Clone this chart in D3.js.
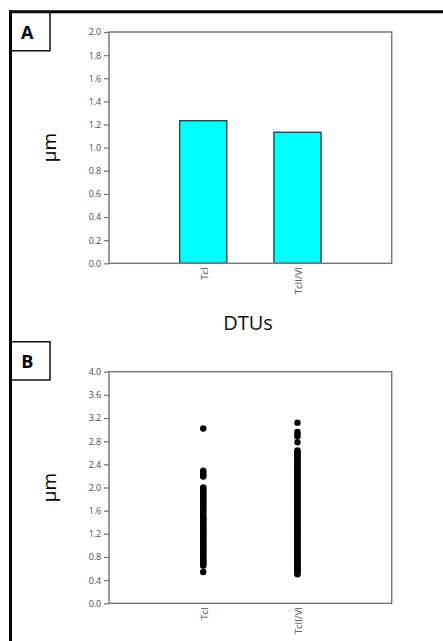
<!DOCTYPE html>
<html>
<head>
<meta charset="utf-8">
<script src="https://cdn.jsdelivr.net/npm/d3@7"></script>
<style>
  html, body { margin: 0; padding: 0; background: #fff; }
  svg { display: block; }
  .tick text { font-family: "Open Sans", sans-serif; }
</style>
</head>
<body>
<svg id="fig" width="443" height="641"></svg>
<script>
// Cell diameter by DTU
const categories = ["TcI", "TcII/VI"];

// Panel A: mean diameter (µm)
const meanValues = [1.233, 1.133];
const yTicksA = [0.0, 0.2, 0.4, 0.6, 0.8, 1.0, 1.2, 1.4, 1.6, 1.8, 2.0];

// Panel B: individual measurements (µm)
const valuesTcI = [
  3.02, 2.29, 2.27, 2.24, 2.21, 2.19,
  2.00, 1.98, 1.95, 1.93, 1.90, 1.89, 1.86, 1.83, 1.81, 1.78, 1.77, 1.74,
  1.72, 1.69, 1.66, 1.65, 1.62, 1.60, 1.57, 1.53, 1.49, 1.47, 1.46, 1.43,
  1.41, 1.38, 1.37, 1.34, 1.31, 1.30, 1.27, 1.25, 1.24, 1.21, 1.18, 1.17,
  1.15, 1.12, 1.10, 1.09, 1.06, 1.04, 1.01, 1.00, 0.97, 0.95, 0.93, 0.90,
  0.89, 0.86, 0.84, 0.82, 0.80, 0.78, 0.75, 0.73, 0.71, 0.69, 0.67, 0.65,
  0.54
];
const valuesTcIIVI = [
  3.12, 2.96, 2.92, 2.88, 2.78,
  2.64, 2.62, 2.60, 2.57, 2.55, 2.53, 2.50, 2.48, 2.46, 2.43, 2.41, 2.39,
  2.37, 2.34, 2.32, 2.30, 2.27, 2.25, 2.23, 2.21, 2.18, 2.16, 2.14, 2.12,
  2.09, 2.07, 2.05, 2.03, 2.00, 1.98, 1.96, 1.94, 1.91, 1.89, 1.87, 1.85,
  1.82, 1.80, 1.78, 1.76, 1.73, 1.71, 1.69, 1.67, 1.64, 1.62, 1.60, 1.58,
  1.55, 1.53, 1.51, 1.49, 1.46, 1.44, 1.42, 1.40, 1.37, 1.35, 1.33, 1.31,
  1.28, 1.26, 1.24, 1.22, 1.19, 1.17, 1.15, 1.13, 1.10, 1.08, 1.06, 1.04,
  1.01, 0.99, 0.97, 0.95, 0.92, 0.90, 0.88, 0.86, 0.83, 0.81, 0.79, 0.77,
  0.74, 0.72, 0.70, 0.68, 0.66, 0.64, 0.62, 0.60, 0.58, 0.56, 0.54, 0.52,
  0.50
];
const yTicksB = [0.0, 0.4, 0.8, 1.2, 1.6, 2.0, 2.4, 2.8, 3.2, 3.6, 4.0];

const svg = d3.select("#fig");
const frameColor = "#7a7a7a";
const tickTextColor = "#4a4a4a";

// Outer figure border (top and left edges)
svg.append("line").attr("x1", 10.5).attr("x2", 443).attr("y1", 11.8).attr("y2", 11.8)
  .attr("stroke", "#000").attr("stroke-width", 3);
svg.append("line").attr("x1", 10.5).attr("x2", 10.5).attr("y1", 10.3).attr("y2", 641)
  .attr("stroke", "#000").attr("stroke-width", 3);

function panelLabel(letter, y0, y1, baseline) {
  svg.append("path")
    .attr("d", `M12,${y0} H50 V${y1} H12`)
    .attr("fill", "none").attr("stroke", "#111").attr("stroke-width", 1.5);
  svg.append("text").attr("x", 27.2).attr("y", baseline)
    .attr("text-anchor", "middle")
    .attr("font-family", "Open Sans, sans-serif").attr("font-weight", 700)
    .attr("font-size", 18).attr("fill", "#000").text(letter);
}

function panel(opts) {
  const { top, bottom, left, right, domainMax, ticks } = opts;
  const x = d3.scalePoint().domain(categories).range([left, right]).padding(1);
  const y = d3.scaleLinear().domain([0, domainMax]).range([bottom, top]);

  // y axis with outward ticks
  const yAxis = svg.append("g").attr("transform", `translate(${left},0)`)
    .call(d3.axisLeft(y).tickValues(ticks).tickFormat(d3.format(".1f"))
      .tickSize(5).tickPadding(3).tickSizeOuter(0));
  yAxis.select(".domain").remove();
  yAxis.selectAll(".tick line").attr("stroke", frameColor).attr("stroke-width", 1.3);
  yAxis.selectAll(".tick text").attr("fill", tickTextColor)
    .attr("font-size", 9).attr("letter-spacing", -0.15);

  // x axis category labels, rotated
  const xAxis = svg.append("g").attr("transform", `translate(0,${bottom})`)
    .call(d3.axisBottom(x).tickSize(0).tickPadding(0));
  xAxis.select(".domain").remove();
  xAxis.selectAll(".tick text")
    .attr("transform", "rotate(-90)")
    .attr("text-anchor", "end")
    .attr("x", -4).attr("y", 1).attr("dy", "0.32em")
    .attr("fill", tickTextColor).attr("font-size", 9.5);

  opts.draw(x, y);

  // plot frame
  svg.append("rect").attr("x", left).attr("y", top)
    .attr("width", right - left).attr("height", bottom - top)
    .attr("fill", "none").attr("stroke", frameColor).attr("stroke-width", 1.5);

  // y axis title
  const cy = (top + bottom) / 2;
  svg.append("text")
    .attr("transform", `translate(55.5,${cy}) rotate(-90)`)
    .attr("text-anchor", "middle")
    .attr("font-family", "Open Sans, sans-serif").attr("font-size", 19)
    .attr("fill", "#000").text("µm");
}

// Panel A: bars
panelLabel("A", 12, 50.7, 39);
panel({
  top: 32, bottom: 263.3, left: 109, right: 391.7, domainMax: 2.0, ticks: yTicksA,
  draw: (x, y) => {
    const bw = x.step() / 2;
    svg.append("g").selectAll("rect").data(categories).join("rect")
      .attr("x", d => x(d) - bw / 2)
      .attr("width", bw)
      .attr("y", (d, i) => y(meanValues[i]))
      .attr("height", (d, i) => y(0) - y(meanValues[i]))
      .attr("fill", "#00ffff")
      .attr("stroke", "#2e4747").attr("stroke-width", 1.4);
  }
});

// x axis title between panels
svg.append("text").attr("x", 248).attr("y", 330)
  .attr("text-anchor", "middle")
  .attr("font-family", "Open Sans, sans-serif").attr("font-size", 20)
  .attr("fill", "#111").text("DTUs");

// Panel B: individual points
panelLabel("B", 341.7, 380, 368.3);
panel({
  top: 371.7, bottom: 603.3, left: 109, right: 391.7, domainMax: 4.0, ticks: yTicksB,
  draw: (x, y) => {
    const series = [valuesTcI, valuesTcIIVI];
    categories.forEach((c, i) => {
      svg.append("g").selectAll("circle").data(series[i]).join("circle")
        .attr("cx", x(c))
        .attr("cy", d => y(d))
        .attr("r", 3.2)
        .attr("fill", "#000");
    });
  }
});
</script>
</body>
</html>
